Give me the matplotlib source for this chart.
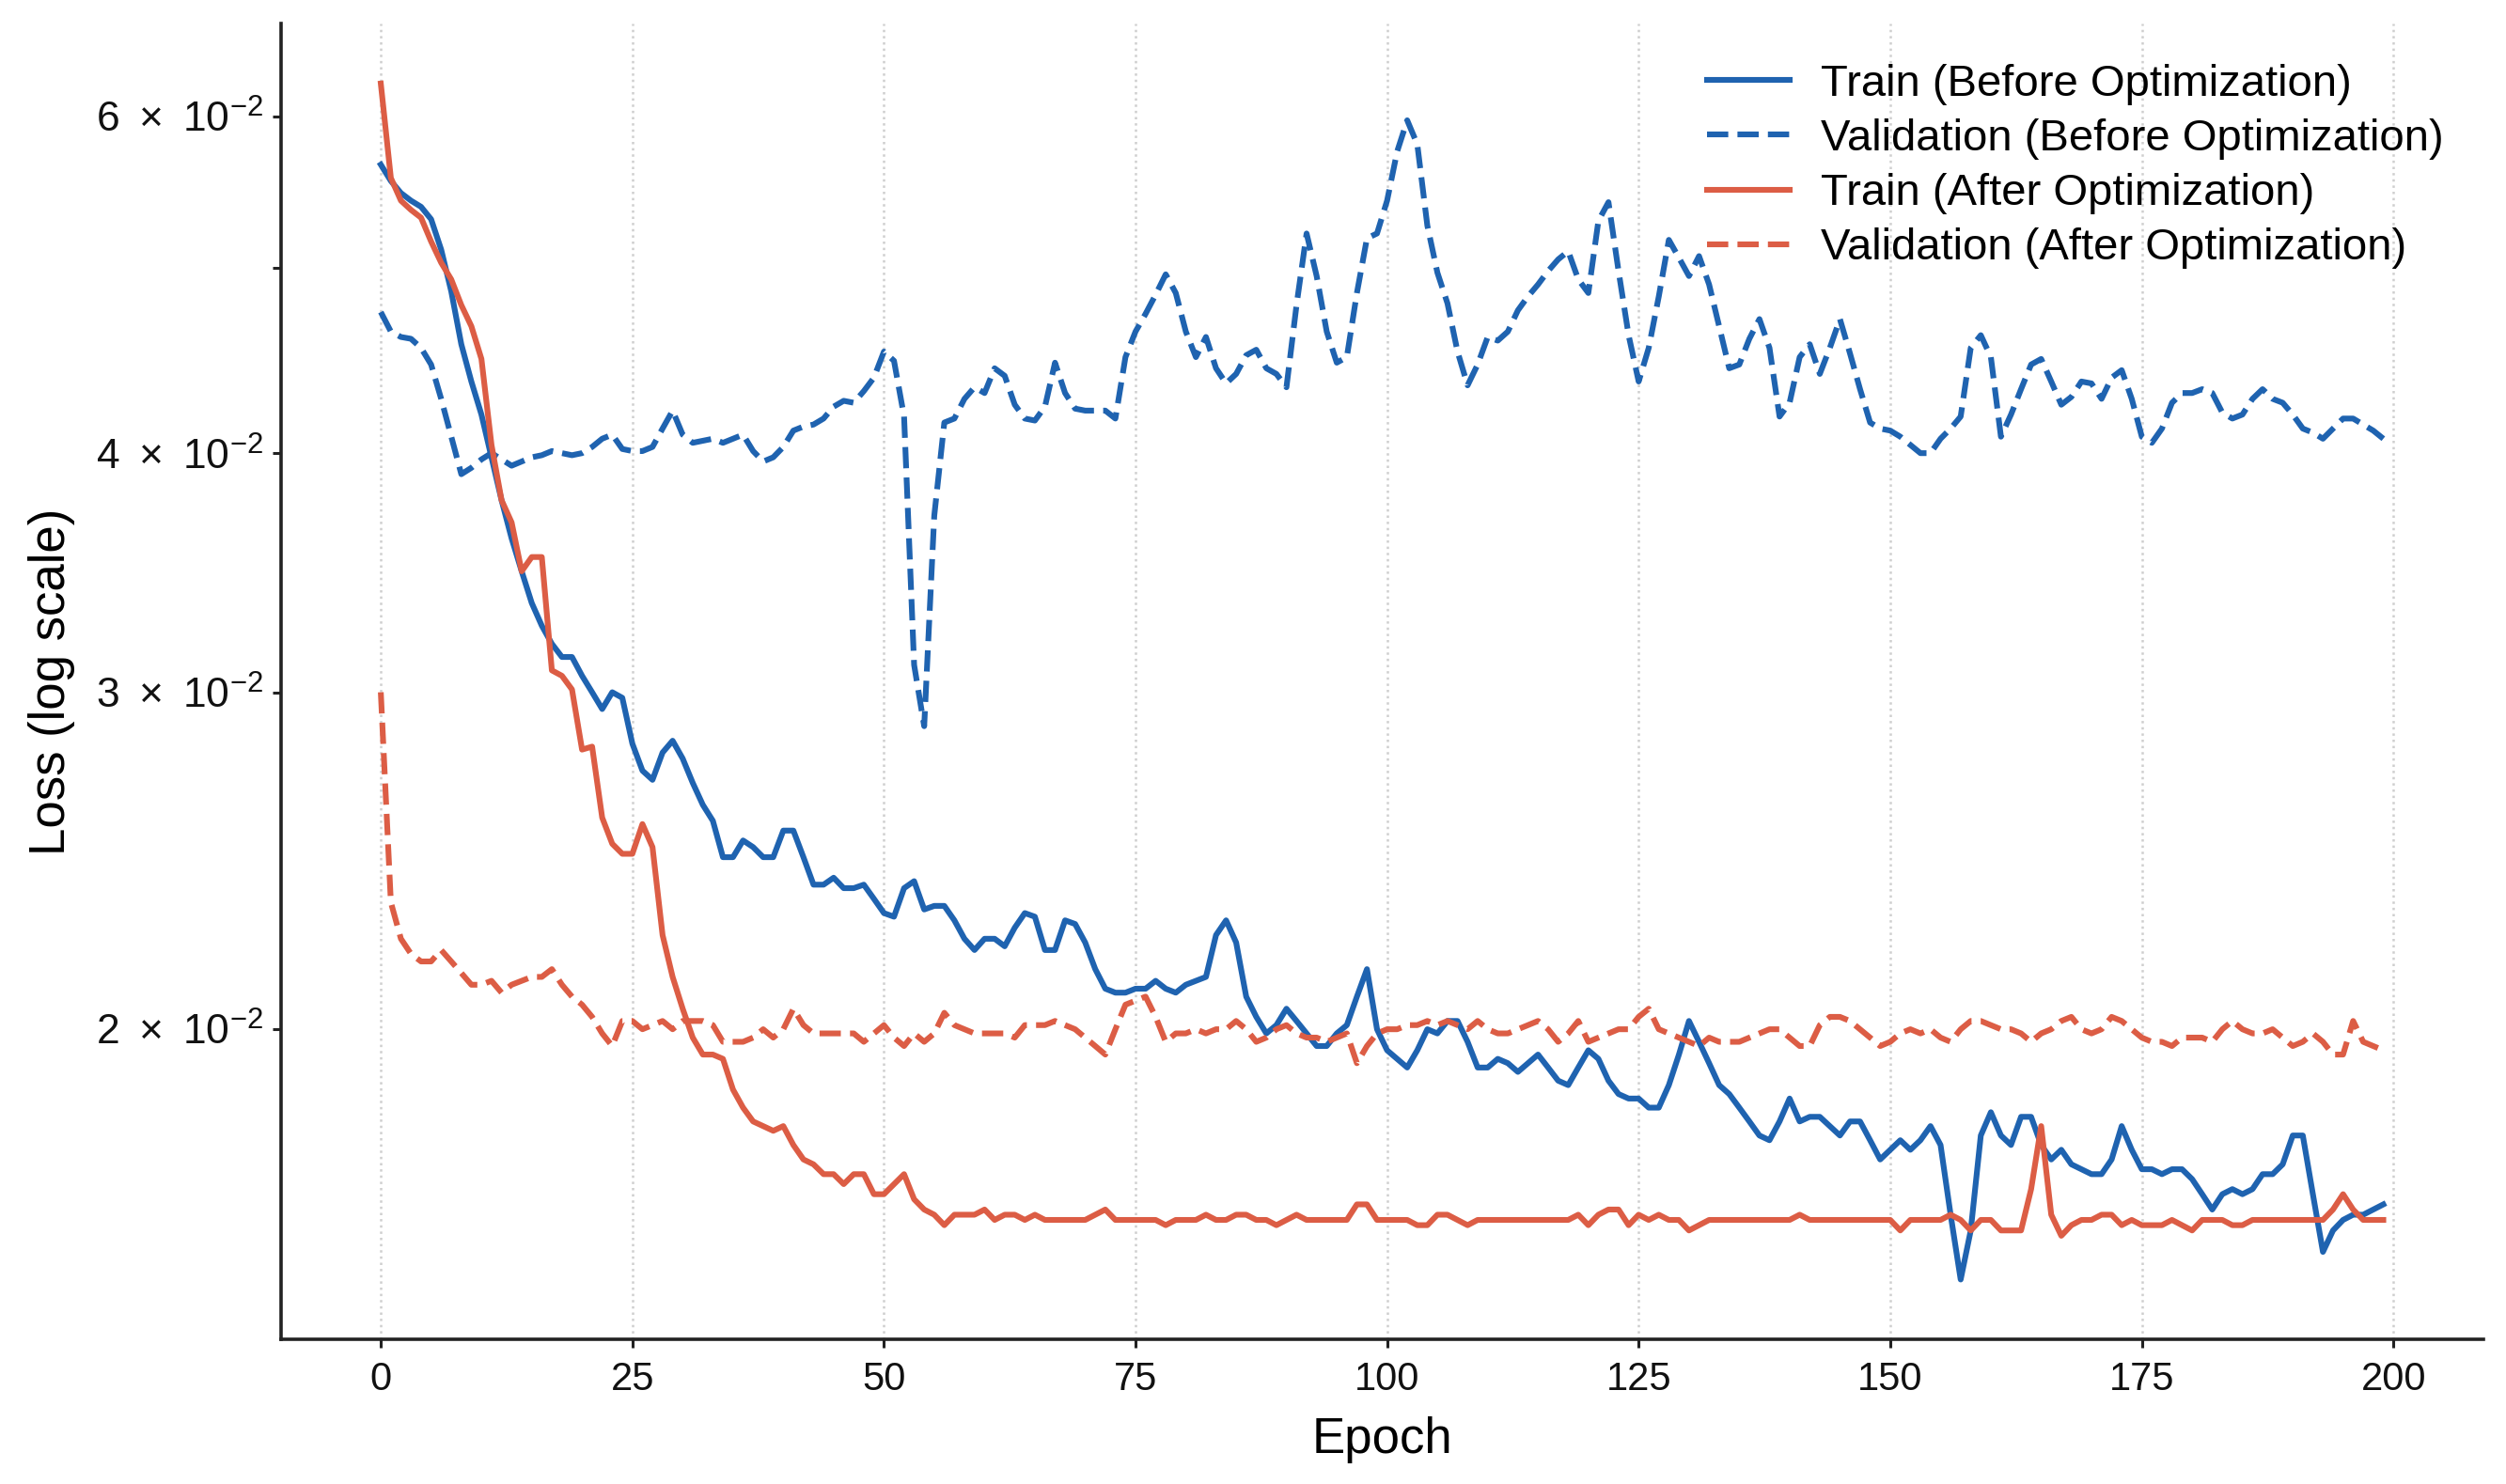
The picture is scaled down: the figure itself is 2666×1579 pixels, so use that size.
import numpy as np
import matplotlib
matplotlib.use("Agg")
import matplotlib.pyplot as plt
from matplotlib.ticker import FuncFormatter

plt.rcParams['font.family'] = ['Liberation Sans', 'DejaVu Sans']

epochs = list(range(200))

train_before = [
    0.0566, 0.0555, 0.0547, 0.0542, 0.0538, 0.0530, 0.0511, 0.0486, 0.0456, 0.0436,
    0.0419, 0.0398, 0.0378, 0.0361, 0.0347, 0.0334, 0.0325, 0.0318, 0.0313, 0.0313,
    0.0306, 0.0300, 0.0294, 0.0300, 0.0298, 0.0282, 0.0273, 0.0270, 0.0279, 0.0283,
    0.0277, 0.0269, 0.0262, 0.0257, 0.0246, 0.0246, 0.0251, 0.0249, 0.0246, 0.0246,
    0.0254, 0.0254, 0.0246, 0.0238, 0.0238, 0.0240, 0.0237, 0.0237, 0.0238, 0.0234,
    0.0230, 0.0229, 0.0237, 0.0239, 0.0231, 0.0232, 0.0232, 0.0228, 0.0223, 0.0220,
    0.0223, 0.0223, 0.0221, 0.0226, 0.0230, 0.0229, 0.0220, 0.0220, 0.0228, 0.0227,
    0.0222, 0.0215, 0.0210, 0.0209, 0.0209, 0.0210, 0.0210, 0.0212, 0.0210, 0.0209,
    0.0211, 0.0212, 0.0213, 0.0224, 0.0228, 0.0222, 0.0208, 0.0203, 0.0199, 0.0201,
    0.0205, 0.0202, 0.0199, 0.0196, 0.0196, 0.0199, 0.0201, 0.0208, 0.0215, 0.0200,
    0.0195, 0.0193, 0.0191, 0.0195, 0.0200, 0.0199, 0.0202, 0.0202, 0.0197, 0.0191,
    0.0191, 0.0193, 0.0192, 0.0190, 0.0192, 0.0194, 0.0191, 0.0188, 0.0187, 0.0191,
    0.0195, 0.0193, 0.0188, 0.0185, 0.0184, 0.0184, 0.0182, 0.0182, 0.0187, 0.0194,
    0.0202, 0.0197, 0.0192, 0.0187, 0.0185, 0.0182, 0.0179, 0.0176, 0.0175, 0.0179,
    0.0184, 0.0179, 0.0180, 0.0180, 0.0178, 0.0176, 0.0179, 0.0179, 0.0175, 0.0171,
    0.0173, 0.0175, 0.0173, 0.0175, 0.0178, 0.0174, 0.0160, 0.0148, 0.0157, 0.0176,
    0.0181, 0.0176, 0.0174, 0.0180, 0.0180, 0.0174, 0.0171, 0.0173, 0.0170, 0.0169,
    0.0168, 0.0168, 0.0171, 0.0178, 0.0173, 0.0169, 0.0169, 0.0168, 0.0169, 0.0169,
    0.0167, 0.0164, 0.0161, 0.0164, 0.0165, 0.0164, 0.0165, 0.0168, 0.0168, 0.0170,
    0.0176, 0.0176, 0.0164, 0.0153, 0.0157, 0.0159, 0.0160, 0.0160, 0.0161, 0.0162,
]

val_before = [
    0.0474, 0.0463, 0.0460, 0.0459, 0.0454, 0.0445, 0.0427, 0.0408, 0.0390, 0.0393,
    0.0397, 0.0400, 0.0397, 0.0394, 0.0396, 0.0398, 0.0399, 0.0401, 0.0400, 0.0399,
    0.0400, 0.0403, 0.0407, 0.0409, 0.0402, 0.0401, 0.0401, 0.0403, 0.0412, 0.0421,
    0.0409, 0.0405, 0.0406, 0.0407, 0.0405, 0.0407, 0.0409, 0.0401, 0.0396, 0.0398,
    0.0403, 0.0411, 0.0413, 0.0414, 0.0417, 0.0423, 0.0426, 0.0425, 0.0431, 0.0438,
    0.0452, 0.0447, 0.0418, 0.0310, 0.0288, 0.0371, 0.0415, 0.0417, 0.0427, 0.0433,
    0.0430, 0.0443, 0.0439, 0.0424, 0.0417, 0.0416, 0.0423, 0.0446, 0.0430, 0.0422,
    0.0421, 0.0421, 0.0421, 0.0417, 0.0449, 0.0463, 0.0473, 0.0484, 0.0496, 0.0485,
    0.0463, 0.0449, 0.0460, 0.0443, 0.0435, 0.0440, 0.0450, 0.0453, 0.0443, 0.0440,
    0.0433, 0.0478, 0.0521, 0.0495, 0.0463, 0.0446, 0.0449, 0.0485, 0.0518, 0.0521,
    0.0542, 0.0575, 0.0597, 0.0580, 0.0526, 0.0497, 0.0479, 0.0452, 0.0434, 0.0445,
    0.0460, 0.0458, 0.0463, 0.0475, 0.0483, 0.0490, 0.0498, 0.0505, 0.0510, 0.0493,
    0.0485, 0.0529, 0.0541, 0.0498, 0.0461, 0.0436, 0.0454, 0.0483, 0.0517, 0.0506,
    0.0495, 0.0507, 0.0490, 0.0466, 0.0443, 0.0445, 0.0459, 0.0470, 0.0454, 0.0418,
    0.0425, 0.0449, 0.0456, 0.0440, 0.0454, 0.0470, 0.0451, 0.0432, 0.0415, 0.0412,
    0.0411, 0.0408, 0.0404, 0.0400, 0.0400, 0.0407, 0.0412, 0.0418, 0.0454, 0.0461,
    0.0449, 0.0408, 0.0419, 0.0432, 0.0445, 0.0448, 0.0436, 0.0424, 0.0428, 0.0436,
    0.0435, 0.0427, 0.0438, 0.0442, 0.0427, 0.0408, 0.0405, 0.0412, 0.0425, 0.0430,
    0.0430, 0.0432, 0.0430, 0.0420, 0.0417, 0.0419, 0.0427, 0.0432, 0.0427, 0.0425,
    0.0419, 0.0412, 0.0410, 0.0407, 0.0412, 0.0417, 0.0417, 0.0414, 0.0411, 0.0407,
]

train_after = [
    0.0624, 0.0557, 0.0542, 0.0536, 0.0531, 0.0516, 0.0503, 0.0493, 0.0478, 0.0466,
    0.0448, 0.0404, 0.0378, 0.0368, 0.0347, 0.0353, 0.0353, 0.0308, 0.0306, 0.0301,
    0.0280, 0.0281, 0.0258, 0.0250, 0.0247, 0.0247, 0.0256, 0.0249, 0.0224, 0.0213,
    0.0205, 0.0198, 0.0194, 0.0194, 0.0193, 0.0186, 0.0182, 0.0179, 0.0178, 0.0177,
    0.0178, 0.0174, 0.0171, 0.0170, 0.0168, 0.0168, 0.0166, 0.0168, 0.0168, 0.0164,
    0.0164, 0.0166, 0.0168, 0.0163, 0.0161, 0.0160, 0.0158, 0.0160, 0.0160, 0.0160,
    0.0161, 0.0159, 0.0160, 0.0160, 0.0159, 0.0160, 0.0159, 0.0159, 0.0159, 0.0159,
    0.0159, 0.0160, 0.0161, 0.0159, 0.0159, 0.0159, 0.0159, 0.0159, 0.0158, 0.0159,
    0.0159, 0.0159, 0.0160, 0.0159, 0.0159, 0.0160, 0.0160, 0.0159, 0.0159, 0.0158,
    0.0159, 0.0160, 0.0159, 0.0159, 0.0159, 0.0159, 0.0159, 0.0162, 0.0162, 0.0159,
    0.0159, 0.0159, 0.0159, 0.0158, 0.0158, 0.0160, 0.0160, 0.0159, 0.0158, 0.0159,
    0.0159, 0.0159, 0.0159, 0.0159, 0.0159, 0.0159, 0.0159, 0.0159, 0.0159, 0.0160,
    0.0158, 0.0160, 0.0161, 0.0161, 0.0158, 0.0160, 0.0159, 0.0160, 0.0159, 0.0159,
    0.0157, 0.0158, 0.0159, 0.0159, 0.0159, 0.0159, 0.0159, 0.0159, 0.0159, 0.0159,
    0.0159, 0.0160, 0.0159, 0.0159, 0.0159, 0.0159, 0.0159, 0.0159, 0.0159, 0.0159,
    0.0159, 0.0157, 0.0159, 0.0159, 0.0159, 0.0159, 0.0160, 0.0159, 0.0157, 0.0159,
    0.0159, 0.0157, 0.0157, 0.0157, 0.0165, 0.0178, 0.0160, 0.0156, 0.0158, 0.0159,
    0.0159, 0.0160, 0.0160, 0.0158, 0.0159, 0.0158, 0.0158, 0.0158, 0.0159, 0.0158,
    0.0157, 0.0159, 0.0159, 0.0159, 0.0158, 0.0158, 0.0159, 0.0159, 0.0159, 0.0159,
    0.0159, 0.0159, 0.0159, 0.0159, 0.0161, 0.0164, 0.0161, 0.0159, 0.0159, 0.0159,
]

val_after = [
    0.0300, 0.0233, 0.0223, 0.0219, 0.0217, 0.0217, 0.0220, 0.0217, 0.0214, 0.0211,
    0.0211, 0.0212, 0.0209, 0.0211, 0.0212, 0.0213, 0.0213, 0.0215, 0.0211, 0.0208,
    0.0206, 0.0203, 0.0199, 0.0196, 0.0202, 0.0202, 0.0200, 0.0201, 0.0202, 0.0200,
    0.0202, 0.0202, 0.0202, 0.0201, 0.0197, 0.0197, 0.0197, 0.0198, 0.0200, 0.0198,
    0.0200, 0.0205, 0.0201, 0.0199, 0.0199, 0.0199, 0.0199, 0.0199, 0.0197, 0.0199,
    0.0201, 0.0198, 0.0196, 0.0199, 0.0197, 0.0199, 0.0204, 0.0201, 0.0200, 0.0199,
    0.0199, 0.0199, 0.0199, 0.0198, 0.0201, 0.0201, 0.0201, 0.0202, 0.0201, 0.0200,
    0.0198, 0.0196, 0.0194, 0.0200, 0.0206, 0.0207, 0.0208, 0.0203, 0.0197, 0.0199,
    0.0199, 0.0200, 0.0199, 0.0200, 0.0200, 0.0202, 0.0200, 0.0197, 0.0198, 0.0200,
    0.0201, 0.0199, 0.0198, 0.0198, 0.0197, 0.0198, 0.0199, 0.0192, 0.0196, 0.0199,
    0.0200, 0.0200, 0.0201, 0.0201, 0.0202, 0.0201, 0.0202, 0.0201, 0.0200, 0.0202,
    0.0200, 0.0199, 0.0199, 0.0200, 0.0201, 0.0202, 0.0200, 0.0197, 0.0199, 0.0202,
    0.0197, 0.0198, 0.0199, 0.0200, 0.0200, 0.0203, 0.0205, 0.0200, 0.0199, 0.0198,
    0.0197, 0.0196, 0.0198, 0.0197, 0.0197, 0.0197, 0.0198, 0.0199, 0.0200, 0.0200,
    0.0198, 0.0196, 0.0196, 0.0201, 0.0203, 0.0203, 0.0202, 0.0200, 0.0198, 0.0196,
    0.0197, 0.0199, 0.0200, 0.0199, 0.0200, 0.0198, 0.0197, 0.0200, 0.0202, 0.0202,
    0.0201, 0.0200, 0.0200, 0.0199, 0.0197, 0.0199, 0.0200, 0.0202, 0.0203, 0.0200,
    0.0199, 0.0200, 0.0203, 0.0202, 0.0200, 0.0198, 0.0197, 0.0197, 0.0196, 0.0198,
    0.0198, 0.0198, 0.0197, 0.0200, 0.0202, 0.0200, 0.0199, 0.0199, 0.0200, 0.0198,
    0.0196, 0.0197, 0.0199, 0.0197, 0.0194, 0.0194, 0.0202, 0.0197, 0.0196, 0.0195,
]

labels = ["Train (Before Optimization)", "Validation (Before Optimization)",
          "Train (After Optimization)", "Validation (After Optimization)"]
x_ticks = [0, 25, 50, 75, 100, 125, 150, 175, 200]
labelled_mantissas = [1, 2, 3, 4, 6]

BLUE = '#1f63b0'
RED = '#dc5d45'


def log_label(v, pos):
    if v <= 0:
        return ''
    exp = int(np.floor(np.log10(v) + 1e-9))
    m = v / 10.0 ** exp
    mr = int(round(m))
    if abs(m - mr) > 1e-6 or mr not in labelled_mantissas:
        return ''
    if mr == 1:
        return r'$\mathdefault{10^{%d}}$' % exp
    return r'$\mathdefault{%d\;\times\;10^{%d}}$' % (mr, exp)


fig = plt.figure(figsize=(13.33, 7.895), dpi=200)
ax = fig.add_axes([0.112, 0.0975, 0.879, 0.8865])

ax.plot(epochs, train_before, color=BLUE, lw=2.2, ls='-', label=labels[0])
ax.plot(epochs, val_before, color=BLUE, lw=2.2, ls='--', label=labels[1])
ax.plot(epochs, train_after, color=RED, lw=2.2, ls='-', label=labels[2])
ax.plot(epochs, val_after, color=RED, lw=2.2, ls='--', label=labels[3])

ax.set_yscale('log')
ax.set_xticks(x_ticks)
ax.yaxis.set_major_formatter(FuncFormatter(log_label))
ax.yaxis.set_minor_formatter(FuncFormatter(log_label))

ax.spines['top'].set_visible(False)
ax.spines['right'].set_visible(False)
for s in ('left', 'bottom'):
    ax.spines[s].set_linewidth(1.3)
    ax.spines[s].set_color('#222222')

ax.xaxis.grid(True, linestyle=':', color='#cfcfcf', lw=0.9)
ax.yaxis.grid(False)
ax.set_axisbelow(True)

ax.tick_params(axis='both', which='both', length=3.2, width=1.1,
               color='#222222', labelcolor='#111111')
ax.tick_params(axis='x', labelsize=15, pad=5)
ax.tick_params(axis='y', which='both', labelsize=16)

ax.set_xlabel('Epoch', fontsize=19, labelpad=7)
ax.set_ylabel('Loss (log scale)', fontsize=19, labelpad=8)

ax.legend(loc='upper right', frameon=False, fontsize=17, labelspacing=0.3,
          handlelength=1.85, handletextpad=0.7)

fig.savefig('out.png', dpi=200)
